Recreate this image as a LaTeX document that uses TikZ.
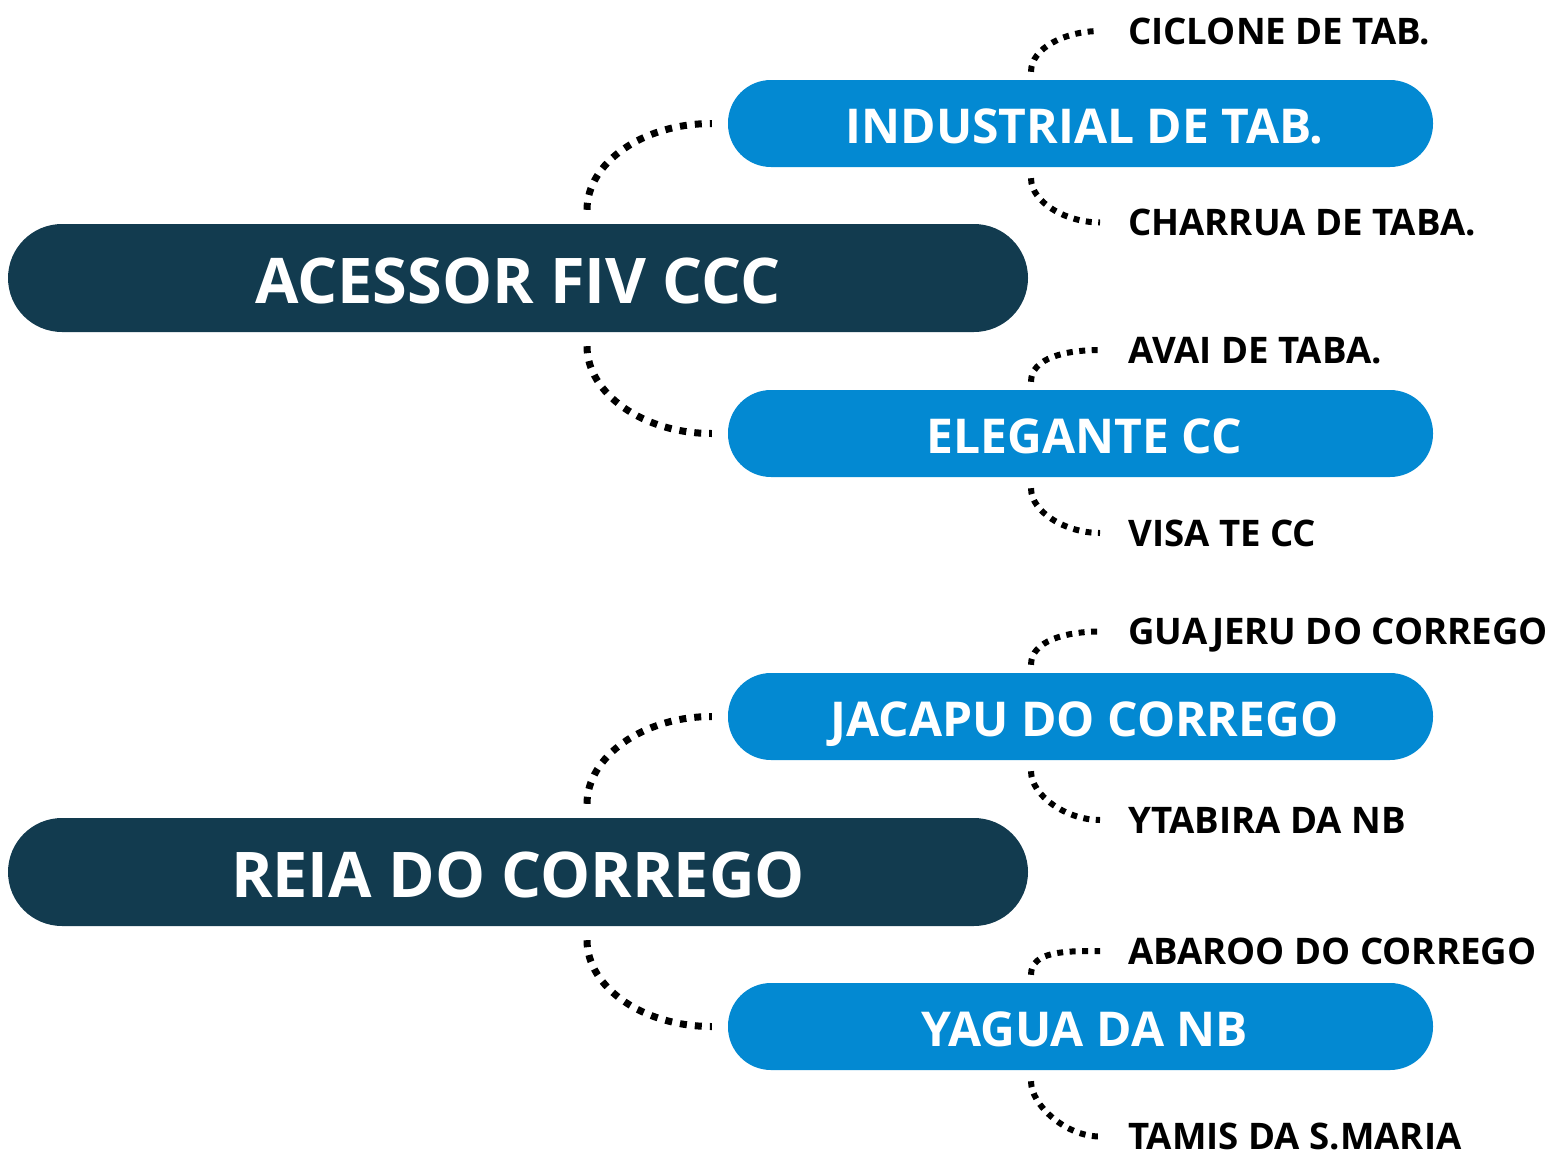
\documentclass[tikz,border=0pt]{standalone}
\usepackage{fontspec}
\setmainfont{Open Sans}
\usetikzlibrary{positioning}
\definecolor{navy}{HTML}{123B4F}
\definecolor{sky}{HTML}{0389D2}

\begin{document}
\begin{tikzpicture}[x=1pt,y=-1pt,
                    trunk/.style={fill=navy,text=white,rounded corners=54pt,
                        minimum width=1020pt,minimum height=108pt,inner sep=0pt,
                        font=\fontsize{63}{63}\selectfont\bfseries,
                        text height=50pt,text depth=0pt},
                    branch/.style={fill=sky,text=white,rounded corners=43pt,
                        minimum width=705pt,minimum height=87pt,inner sep=0pt,
                        font=\fontsize{48}{48}\selectfont\bfseries,
                        text height=40pt,text depth=0pt},
                    leaf/.style={anchor=west,inner sep=0pt,
                        font=\fontsize{36.6}{36.6}\selectfont\bfseries,
                        text height=26.5pt,text depth=0pt},
                    bigdots/.style={draw=black,line width=7pt,dash pattern=on 7pt off 8pt},
                    smalldots/.style={draw=black,line width=6pt,dash pattern=on 6pt off 6.5pt}]
    \useasboundingbox (0,0) rectangle (1563,1156);

    \node[trunk]  (acessor)    at (518,278)      {ACESSOR FIV CCC};
    \node[trunk]  (reia)       at (518,872)      {REIA DO CORREGO};

    \node[branch] (industrial) at (1080.5,123.5) {\hspace*{8pt}INDUSTRIAL DE TAB.};
    \node[branch] (elegante)   at (1080.5,433.5) {\hspace*{8pt}ELEGANTE CC};
    \node[branch] (jacapu)     at (1080.5,716.5) {\hspace*{8pt}JACAPU DO CORREGO};
    \node[branch] (yagua)      at (1080.5,1026.5){\hspace*{8pt}YAGUA DA NB};

    \node[leaf]   (ciclone)    at (1128,31)      {CICLONE DE TAB.};
    \node[leaf]   (charrua)    at (1128,222.5)   {CHARRUA DE TABA.};
    \node[leaf]   (avai)       at (1128,350)     {AVAI DE TABA.};
    \node[leaf]   (visa)       at (1128,533)     {VISA TE CC};
    \node[leaf]   (guajeru)    at (1128,631.5)   {GUAJERU DO CORREGO};
    \node[leaf]   (ytabira)    at (1128,820)     {YTABIRA DA NB};
    \node[leaf]   (abaroo)     at (1128,951)     {ABAROO DO CORREGO};
    \node[leaf]   (tamis)      at (1128,1136.5)  {TAMIS DA S.MARIA};

    % trunk to branch
    \foreach \root/\up/\down in {acessor/industrial/elegante,reia/jacapu/yagua}{
        \draw[bigdots] ([xshift=69pt,yshift=14pt]\root.north)
            .. controls +(0,-47) and +(-69,0) .. ([xshift=-16pt]\up.west);
        \draw[bigdots] ([xshift=69pt,yshift=-14pt]\root.south)
            .. controls +(0,47) and +(-69,0) .. ([xshift=-16pt]\down.west);
    }

    % branch to leaf
    \foreach \stem/\up/\down in {industrial/ciclone/charrua,elegante/avai/visa,
                                 jacapu/guajeru/ytabira,yagua/abaroo/tamis}{
        \draw[smalldots] ([xshift=-49.5pt,yshift=8pt]\stem.north)
            .. controls +(0,-24) and +(-34,0) .. ([xshift=-28pt]\up.west);
        \draw[smalldots] ([xshift=-49.5pt,yshift=-11pt]\stem.south)
            .. controls +(0,24) and +(-34,0) .. ([xshift=-28pt]\down.west);
    }
\end{tikzpicture}
\end{document}
